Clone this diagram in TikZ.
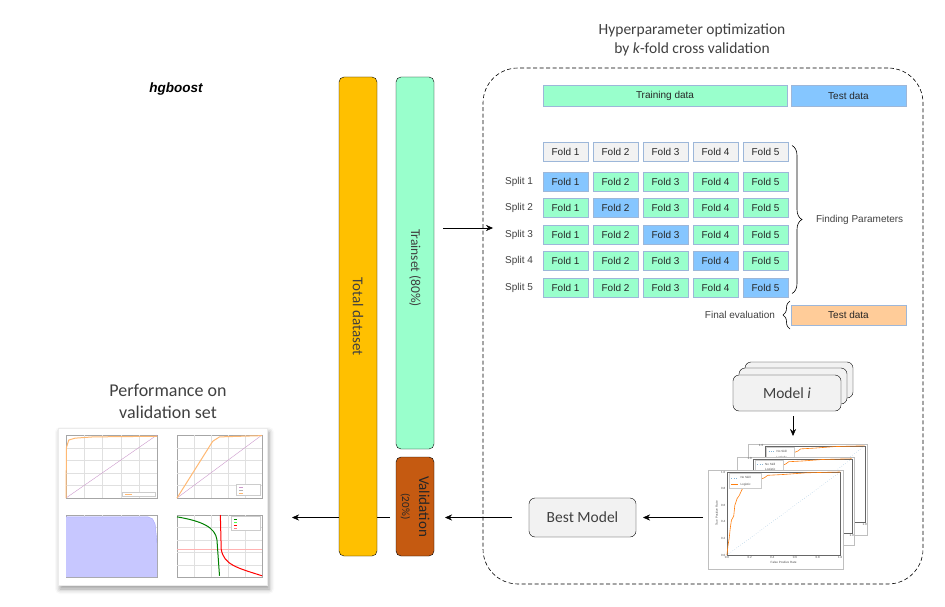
\documentclass[tikz,border=0pt]{standalone}
\usepackage{fontspec}
\setmainfont{Carlito}
\newfontfamily\arialfont{Liberation Sans}
\usetikzlibrary{arrows.meta,positioning,decorations.pathreplacing,shadows.blur,backgrounds}

\definecolor{dsyellow}{HTML}{FFC000}
\definecolor{dsmint}{HTML}{99FFCC}
\definecolor{dsblue}{HTML}{85C6FF}
\definecolor{dsbrown}{HTML}{C55A11}
\definecolor{dspeach}{HTML}{FFCC99}
\definecolor{dsgray}{HTML}{F2F2F2}
\definecolor{foldedge}{HTML}{9DB7D9}
\definecolor{txtgray}{HTML}{404040}
\definecolor{rocorange}{HTML}{FF7F0E}
\definecolor{rocblue}{HTML}{1F77B4}

\tikzset{
  pics/gridaxes/.style={code={
    \draw[black!35, very thin] (0,0) rectangle (1,1);
    \foreach \g in {0.2,0.4,0.6,0.8} {
      \draw[black!12, very thin] (\g,0) -- (\g,1);
      \draw[black!12, very thin] (0,\g) -- (1,\g);
    }
  }},
  pics/rocpanel/.style 2 args={code={
    \draw[black!25, fill=white] (0,0) rectangle (#1,#2);
    \begin{scope}[shift={(0.14*#1,0.86*#2)}, xscale=0.84*#1, yscale=-0.84*#2]
      \draw[black!60, very thin] (0,0) rectangle (1,1);
      \draw[rocblue!55, dotted, thin] (0,0) -- (1,1);
      \draw[rocorange, line width=0.6pt] (0,0) -- (0.01,0.12) -- (0.02,0.2) -- (0.03,0.33)
        -- (0.04,0.42) -- (0.06,0.47) -- (0.07,0.6) -- (0.09,0.68) -- (0.11,0.72)
        -- (0.13,0.78) -- (0.15,0.83) -- (0.18,0.86) -- (0.23,0.88) -- (0.27,0.9)
        -- (0.33,0.93) -- (0.36,0.96) -- (0.5,0.97) -- (0.7,0.99) -- (1,1);
      \draw[black!20, fill=white] (0.02,0.98) rectangle (0.3,0.8);
      \draw[rocblue!55, dotted, thin] (0.04,0.93) -- (0.1,0.93);
      \draw[rocorange, thin] (0.04,0.85) -- (0.1,0.85);
    \end{scope}
    \foreach \t/\l in {0/0.0,0.2/0.2,0.4/0.4,0.6/0.6,0.8/0.8,1/1.0} {
      \node[ticklbl, anchor=north] at ({(0.14+0.84*\t)*#1},{0.86*#2+1.5}) {\l};
      \node[ticklbl, anchor=east] at ({0.14*#1-1.5},{(0.86-0.84*\t)*#2}) {\l};
    }
    \node[ticklbl, anchor=north] at ({0.56*#1},{0.86*#2+6}) {False Positive Rate};
    \node[ticklbl, rotate=90, anchor=south] at ({0.14*#1-9},{0.44*#2}) {True Positive Rate};
    \node[ticklbl, anchor=west] at ({(0.14+0.84*0.12)*#1},{(0.86-0.84*0.93)*#2}) {No Skill};
    \node[ticklbl, anchor=west] at ({(0.14+0.84*0.12)*#1},{(0.86-0.84*0.85)*#2}) {Logistic};
  }},
}

\begin{document}
\begin{tikzpicture}[
    x=1pt, y=-1pt,
    every node/.style={inner sep=0pt, outer sep=0pt, text=txtgray},
    bar/.style={draw, rounded corners=5pt, minimum width=38pt},
    bartext/.style={rotate=-90, align=center},
    fold/.style={draw=foldedge, line width=0.8pt, minimum width=45pt, minimum height=19pt,
        text=black!85, font=\arialfont\fontsize{10}{12}\selectfont},
    datalbl/.style={font=\arialfont\fontsize{10}{12}\selectfont},
    modelbox/.style={draw, fill=dsgray, rounded corners=6pt, minimum width=108pt,
        minimum height=36pt, font=\fontsize{15.5}{18}\selectfont},
    arrow/.style={draw, -{Stealth[length=7pt, width=6pt]}, thin},
    ticklbl/.style={font=\arialfont\fontsize{3}{3.5}\selectfont, text=black!70},
]
\useasboundingbox (0,0) rectangle (945,607);

\node[font=\arialfont\bfseries\itshape\fontsize{13.5}{16}\selectfont, text=black] (brand) at (176,89) {hgboost};

% data split bars
\node[bar, fill=dsyellow, minimum height=479pt] (total) at (358,316.5) {};
\node[bartext, font=\fontsize{15}{18}\selectfont] (totaltxt) at (total) {Total dataset};
\node[bar, fill=dsmint, minimum height=372pt] (train) at (415,263) {};
\node[bartext, font=\fontsize{13.5}{16}\selectfont] (traintxt) at (415,268) {Trainset (80\%)};
\node[bar, fill=dsbrown, minimum height=99pt, below=8pt of train] (valid) {};
\node[bartext, font=\fontsize{15}{17}\selectfont, text=black!85] (validtxt) at (valid)
    {Validation\\{\fontsize{11}{17}\selectfont (20\%)}};

% performance on validation set
\node[align=center, font=\fontsize{18}{22}\selectfont] (perftitle) at (168,401)
    {Performance on\\validation set};
\node[draw=black!8, fill=white, minimum width=209pt, minimum height=157pt,
    blur shadow={shadow xshift=2pt, shadow yshift=-4pt, shadow blur radius=5pt}]
    (perf) at (162.5,506.5) {};
\begin{scope}[shift={(66,498)}, xscale=91, yscale=-63]
  \pic[transform shape] {gridaxes};
  \draw[violet!40, thin] (0,0) -- (1,1);
  \draw[orange!55, line width=1pt] (0,0) -- (0.005,0.8) -- (0.03,0.92) -- (0.1,0.95)
    -- (0.3,0.97) -- (1,0.98);
  \draw[black!20, fill=white, very thin] (0.62,0.03) rectangle (0.98,0.1);
  \draw[orange!55] (0.65,0.065) -- (0.72,0.065);
\end{scope}
\begin{scope}[shift={(177,498)}, xscale=85, yscale=-63]
  \pic[transform shape] {gridaxes};
  \draw[violet!40, thin] (0,0) -- (1,1);
  \draw[orange!55, line width=1pt] (0,0) -- (0.42,0.9) -- (0.5,0.97) -- (1,0.99);
  \draw[black!20, fill=white, very thin] (0.7,0.04) rectangle (0.98,0.22);
  \draw[violet!40] (0.73,0.17) -- (0.78,0.17);
  \draw[black!30] (0.73,0.12) -- (0.78,0.12);
  \draw[orange!55] (0.73,0.07) -- (0.78,0.07);
\end{scope}
\begin{scope}[shift={(66,577)}, xscale=91, yscale=-62]
  \pic[transform shape] {gridaxes};
  \fill[blue!22] (0,0) -- (0,0.97) -- (0.9,0.97) -- (0.95,0.94) -- (0.98,0.85)
    -- (1,0.55) -- (1,0) -- cycle;
  \draw[blue!35, thin] (0,0.97) -- (0.9,0.97) -- (0.95,0.94) -- (0.98,0.85) -- (1,0.55);
\end{scope}
\begin{scope}[shift={(177,577)}, xscale=85, yscale=-62]
  \pic[transform shape] {gridaxes};
  \draw[red!30, thin] (0,0.45) -- (1,0.45);
  \draw[green!50!black, line width=1pt] (0,0.97) .. controls (0.3,0.9) and (0.45,0.8) .. (0.47,0.6)
    -- (0.5,0.02);
  \draw[red, line width=1pt] (0.51,1) -- (0.52,0.45) .. controls (0.55,0.2) and (0.7,0.15) .. (1,0.02);
  \draw[black!20, fill=white, very thin] (0.64,0.75) rectangle (0.98,0.98);
  \draw[green!50!black] (0.67,0.93) -- (0.71,0.93);
  \draw[green!70] (0.67,0.88) -- (0.71,0.88);
  \draw[red] (0.67,0.83) -- (0.71,0.83);
  \draw[red!50] (0.67,0.78) -- (0.71,0.78);
\end{scope}

% cross validation
\node[draw, line width=0.6pt, dash pattern=on 4pt off 2.5pt, rounded corners=35pt,
    minimum width=440pt, minimum height=516pt] (cvbox) at (703,326) {};
\node[align=center, font=\fontsize{15.5}{19}\selectfont] (cvtitle) at (692,40)
    {Hyperparameter optimization\\by \textit{k}-fold cross validation};

\node[fold, fill=dsmint, minimum width=244pt, minimum height=21pt] (traindata) at (665,95.5) {Training data};
\node[fold, fill=dsblue, minimum width=115pt, minimum height=21pt, right=4pt of traindata] (testtop) {Test data};

\foreach \c in {1,...,5}
  \node[fold, fill=dsgray] (h\c) at ({515.5+50*\c},152) {Fold \c};
\foreach \r/\y in {1/182,2/208,3/235,4/261,5/288} {
  \foreach \c in {1,...,5} {
    \ifnum\c=\r \def\foldfill{dsblue}\else\def\foldfill{dsmint}\fi
    \node[fold, fill=\foldfill] (f\r\c) at ({515.5+50*\c},\y) {Fold \c};
  }
  \node[datalbl, left=10pt of f\r1] (s\r) {Split \r};
}
\draw[decorate, decoration={brace, amplitude=10pt}, semithick]
    ([shift={(4,3)}]h5.north east) -- ([shift={(4,-4)}]f55.south east);
\node[datalbl, anchor=west] (findparam) at (816,220) {Finding Parameters};

\node[fold, fill=dspeach, minimum width=115pt, minimum height=20pt] (testeval) at (848.5,315) {Test data};
\draw[decorate, decoration={brace, amplitude=7pt}, semithick]
    ([shift={(-1,4)}]testeval.south west) -- ([shift={(-1,-4)}]testeval.north west);
\node[datalbl, left=16pt of testeval] (finaleval) {Final evaluation};

% models
\node[modelbox] (modelc) at (799,380) {};
\node[modelbox] (modelb) at (793,386) {};
\node[modelbox] (model) at (787,393) {Model \textit{i}};
\pic at (748,444) {rocpanel={119}{91}};
\pic at (737,457) {rocpanel={117}{88}};
\pic at (708,470) {rocpanel={135}{99}};
\coordinate (rocin) at (793,444);
\coordinate (rocout) at (703,517.5);
\node[modelbox, minimum width=107pt, minimum height=39pt] (best) at (582.5,517.5) {Best Model};

% connectors
\coordinate (cvin) at (493,228);
\coordinate (perfin) at (292,517.5);
\draw[arrow, shorten <=9pt] (train.east |- cvin) -- (cvin);
\draw[arrow, shorten <=5pt, shorten >=8pt] (model.south -| rocin) -- (rocin);
\draw[arrow, shorten >=7pt] (rocout) -- (best.east);
\draw[arrow, shorten <=17pt, shorten >=11pt] (best.west) -- (valid.east |- best.west);
\begin{scope}[on background layer]
  \draw[arrow, shorten <=6pt] (valid.west |- best.west) -- (perfin);
\end{scope}
\end{tikzpicture}
\end{document}
